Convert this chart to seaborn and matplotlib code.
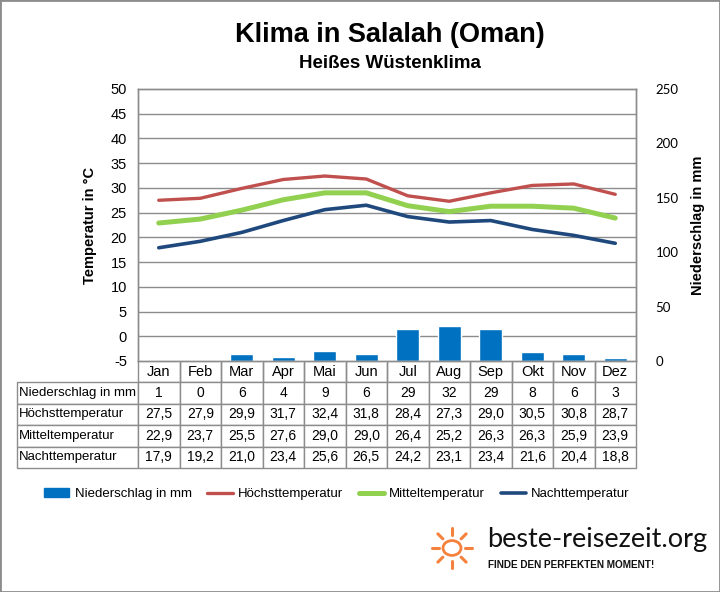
import numpy as np
import matplotlib
matplotlib.use('Agg')
import matplotlib.pyplot as plt
import matplotlib.patches as mpatches
from matplotlib.lines import Line2D
import seaborn as sns

# ==============================================
# Data
months = ['Jan', 'Feb', 'Mar', 'Apr', 'Mai', 'Jun', 'Jul', 'Aug', 'Sep', 'Okt', 'Nov', 'Dez']
precip = [1, 0, 6, 4, 9, 6, 29, 32, 29, 8, 6, 3]
t_high = [27.5, 27.9, 29.9, 31.7, 32.4, 31.8, 28.4, 27.3, 29.0, 30.5, 30.8, 28.7]
t_mean = [22.9, 23.7, 25.5, 27.6, 29.0, 29.0, 26.4, 25.2, 26.3, 26.3, 25.9, 23.9]
t_night = [17.9, 19.2, 21.0, 23.4, 25.6, 26.5, 24.2, 23.1, 23.4, 21.6, 20.4, 18.8]

c_bar = '#0070C0'
c_high = '#C0504D'
c_mean = '#92D050'
c_night = '#1F497D'
grid_c = '#8C8C8C'

sns.set_style('white')
plt.rcParams['font.family'] = ['Liberation Sans', 'DejaVu Sans']
plt.rcParams['text.color'] = 'black'
plt.rcParams['axes.labelcolor'] = 'black'
plt.rcParams['ytick.color'] = 'black'
plt.rcParams['axes.unicode_minus'] = False

W, H = 720, 592
fig = plt.figure(figsize=(W / 100, H / 100), dpi=100)

# plot area in pixels: x 138..636, y 89..361
ax = fig.add_axes([138 / W, 1 - 361 / H, 498 / W, 272 / H])
ax2 = ax.twinx()
ax2.set_zorder(ax.zorder - 1)
ax.patch.set_visible(False)

x = np.arange(len(months))

# bars (precipitation, right axis)
sns.barplot(x=x, y=precip, ax=ax2, color=c_bar, saturation=1, width=0.55,
            native_scale=True, zorder=2)
ax2.set_ylim(0, 250)
ax2.set_yticks(range(0, 251, 50))
# gridlines follow the temperature steps (every 5 °C)
ax2.set_yticks(np.linspace(0, 250, 12), minor=True)
ax2.tick_params(axis='y', which='both', length=0)
ax2.tick_params(axis='y', labelsize=9.5, pad=14)
for lab in ax2.get_yticklabels():
    lab.set_family(['Lato', 'DejaVu Sans'])
ax2.set_ylabel('Niederschlag in mm', fontsize=10.5, fontweight='bold', labelpad=9)
ax2.yaxis.grid(True, which='minor', color=grid_c, lw=1)
ax2.yaxis.grid(False, which='major')
ax2.set_axisbelow(True)

# lines (temperatures, left axis)
sns.lineplot(x=x, y=t_high, ax=ax, color=c_high, lw=2.4)
sns.lineplot(x=x, y=t_mean, ax=ax, color=c_mean, lw=3.6)
sns.lineplot(x=x, y=t_night, ax=ax, color=c_night, lw=2.6)
ax.set_ylim(-5, 50)
ax.set_yticks(range(-5, 51, 5))
ax.tick_params(axis='y', length=0, labelsize=10.5, pad=8)
ax.set_ylabel('Temperatur in °C', fontsize=10.5, fontweight='bold', labelpad=10)
ax.set_xlim(-0.5, 11.5)
ax2.set_xlim(-0.5, 11.5)
ax.set_xticks([])
ax2.set_xticks([])
ax.set_xlabel('')
ax2.set_xlabel('')
for a in (ax, ax2):
    for s in a.spines.values():
        s.set_color(grid_c)
        s.set_linewidth(1)
ax.yaxis.grid(False)

# ==============================================
# Table under the chart
def fmt(v):
    return f'{v:.1f}'.replace('.', ',')

rows = [[''] + months,
        ['Niederschlag in mm'] + [str(p) for p in precip],
        ['Höchsttemperatur'] + [fmt(v) for v in t_high],
        ['Mitteltemperatur'] + [fmt(v) for v in t_mean],
        ['Nachttemperatur'] + [fmt(v) for v in t_night]]
tot = 636 - 17
first = 121 / tot
col_w = [first] + [(1 - first) / 12] * 12
tab = ax.table(cellText=rows, colWidths=col_w, cellLoc='center',
               bbox=[(17 - 138) / 498, (361 - 468) / 272, tot / 498, 107 / 272])
tab.auto_set_font_size(False)
tab.set_fontsize(10)
for (r, c), cell in tab.get_celld().items():
    cell.set_edgecolor(grid_c)
    cell.set_linewidth(1)
    if c == 0:
        cell.get_text().set_ha('left')
        cell.get_text().set_fontsize(9.5)
        cell.PAD = 0.015
    if r == 0 and c == 0:
        cell.visible_edges = 'open'
    if r == 0 and c > 0:
        cell.visible_edges = 'BLR'
        cell.get_text().set_fontsize(10.5)

# ==============================================
# Titles
fig.text(390 / W, 1 - 35 / H, 'Klima in Salalah (Oman)', ha='center', va='center',
         fontsize=19.5, fontweight='bold')
fig.text(390 / W, 1 - 63 / H, 'Heißes Wüstenklima', ha='center', va='center',
         fontsize=13.5, fontweight='bold')

# Legend
handles = [mpatches.Patch(color=c_bar, label='Niederschlag in mm'),
           Line2D([], [], color=c_high, lw=2.4, label='Höchsttemperatur'),
           Line2D([], [], color=c_mean, lw=3.6, label='Mitteltemperatur'),
           Line2D([], [], color=c_night, lw=2.6, label='Nachttemperatur')]
fig.legend(handles=handles, loc='center', bbox_to_anchor=(337 / W, 1 - 494 / H), ncol=4,
           frameon=False, fontsize=9.5, handlelength=1.9, handleheight=0.6,
           handletextpad=0.4, columnspacing=1.2)

# Logo
sun_x, sun_y = 452, 548
sun_c = '#F5823C'
fig.patches.append(mpatches.Circle((sun_x / W, 1 - sun_y / H), 9 / W, transform=fig.transFigure,
                                   fill=False, ec=sun_c, lw=2))
for ang in np.deg2rad([90, 135, 180, 225, 270, 45, 0, -45]):
    fig.lines.append(Line2D([(sun_x + 13 * np.cos(ang)) / W, (sun_x + 20 * np.cos(ang)) / W],
                            [1 - (sun_y - 13 * np.sin(ang)) / H, 1 - (sun_y - 20 * np.sin(ang)) / H],
                            transform=fig.transFigure, color=sun_c, lw=2.2))
fig.text(487 / W, 1 - 539 / H, 'beste-reisezeit.org', ha='left', va='center',
         fontsize=19.5, family=['Lato', 'DejaVu Sans'], color='#111111')
fig.text(488 / W, 1 - 565 / H, 'FINDE DEN PERFEKTEN MOMENT!', ha='left', va='center',
         fontsize=7.2, fontweight='bold', color='#111111')

# outer border
fig.patches.append(mpatches.Rectangle((0, 0), 1, 1, transform=fig.transFigure, fill=False,
                                      ec='#8C8C8C', lw=2))

plt.savefig('out.png', dpi=100)
